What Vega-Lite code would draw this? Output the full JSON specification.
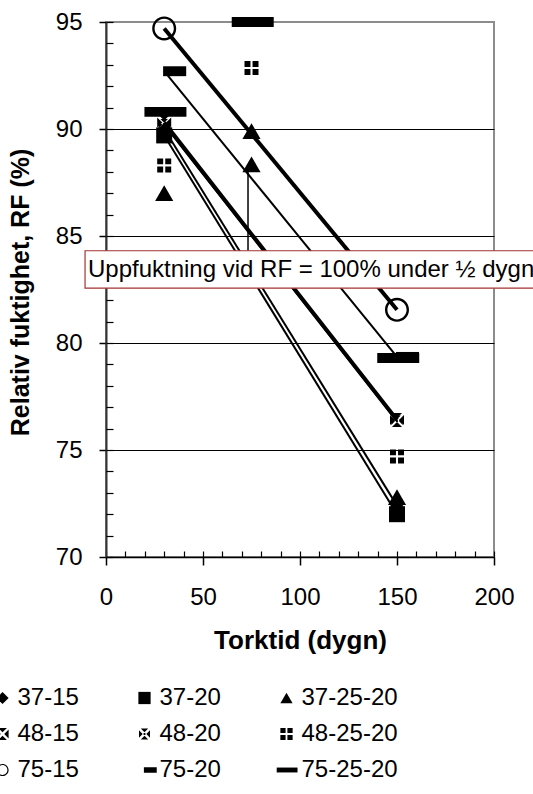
{
  "$schema": "https://vega.github.io/schema/vega-lite/v6.json",
  "width": 388,
  "height": 535,
  "autosize": {"type": "none"},
  "padding": {"left": 106, "top": 22, "right": 39, "bottom": 237},
  "config": {
    "font": "Liberation Sans",
    "view": {"stroke": "#8c8c8c", "strokeWidth": 2},
    "axis": {"labelFont": "Liberation Sans", "titleFont": "Liberation Sans", "labelColor": "black", "titleColor": "black"}
  },
  "datasets": {
    "pts": [
      {"series": "37-15", "x": 30, "y": 90.0},
      {"series": "37-15", "x": 150, "y": 72.4},
      {"series": "37-20", "x": 30, "y": 89.7},
      {"series": "37-20", "x": 150, "y": 72.0},
      {"series": "37-25-20", "x": 30, "y": 87.0},
      {"series": "37-25-20", "x": 75, "y": 88.35},
      {"series": "37-25-20", "x": 75, "y": 89.9},
      {"series": "37-25-20", "x": 150, "y": 72.8},
      {"series": "48-15", "x": 30, "y": 90.3},
      {"series": "48-15", "x": 150, "y": 76.4},
      {"series": "48-20", "x": 30, "y": 90.2},
      {"series": "48-20", "x": 150, "y": 76.35},
      {"series": "48-25-20", "x": 30, "y": 88.3},
      {"series": "48-25-20", "x": 75, "y": 92.85},
      {"series": "48-25-20", "x": 150, "y": 74.7},
      {"series": "75-15", "x": 30, "y": 94.7},
      {"series": "75-15", "x": 150, "y": 81.55},
      {"series": "75-20", "x": 30, "y": 92.7},
      {"series": "75-20", "x": 150, "y": 79.35},
      {"series": "75-25-20", "x": 30, "y": 90.8},
      {"series": "75-25-20", "x": 75, "y": 95.0},
      {"series": "75-25-20", "x": 150, "y": 79.3}
    ],
    "box": [{"x": -10.8, "x2": 230, "y": 82.56, "y2": 84.31}],
    "note": [{"x": -9.3, "y": 83.07, "label": "Uppfuktning vid RF = 100% under ½ dygn"}],
    "arrow": [{"x": 73.2, "y": 84.31, "y2": 88.2}]
  },
  "layer": [
    {
      "data": {"name": "pts"},
      "transform": [{"filter": {"field": "series", "oneOf": ["37-15", "37-20", "48-15", "48-20", "75-15", "75-20"]}}],
      "mark": {"type": "line", "color": "black"},
      "encoding": {
        "x": {"field": "x", "type": "quantitative", "scale": {"domain": [0, 200], "nice": false},
          "axis": {"values": [0, 50, 100, 150, 200], "title": "Torktid (dygn)", "titleFontSize": 26, "titleFontWeight": "bold",
            "titleX": 194, "titleY": 91, "titleBaseline": "alphabetic", "titleAnchor": "middle",
            "labelFontSize": 24, "labelPadding": 20, "tickSize": 8, "tickColor": "black", "tickWidth": 1.5,
            "domainColor": "black", "domainWidth": 1.5, "grid": false, "labelFlush": false, "labelOverlap": false}},
        "y": {"field": "y", "type": "quantitative", "scale": {"domain": [70, 95], "nice": false, "zero": false},
          "axis": {"values": [70, 75, 80, 85, 90, 95], "title": "Relativ fuktighet, RF (%)", "titleFontSize": 25, "titleFontWeight": "bold",
            "titleX": -78, "titleY": 270, "titleBaseline": "alphabetic", "titleAngle": -90, "titleAnchor": "middle",
            "labelFontSize": 24, "labelPadding": 17, "tickSize": 7, "tickColor": "black", "tickWidth": 1.5,
            "domainColor": "#333", "domainWidth": 2, "grid": true,
            "gridColor": {"condition": {"test": "datum.value >= 95 || datum.value <= 70", "value": "transparent"}, "value": "black"},
            "gridWidth": 1, "labelFlush": false, "labelOverlap": false}},
        "detail": {"field": "series"},
        "strokeWidth": {"field": "series", "type": "nominal",
          "scale": {"type": "ordinal", "domain": ["37-15", "37-20", "48-15", "48-20", "75-15", "75-20"], "range": [2, 2, 4, 2, 4, 2]}, "legend": null}
      }
    },
    {
      "data": {"name": "arrow"},
      "mark": {"type": "rule", "color": "black", "strokeWidth": 1.5},
      "encoding": {
        "x": {"field": "x", "type": "quantitative",
          "axis": {"values": [0,10,20,30,40,50,60,70,80,90,100,110,120,130,140,150,160,170,180,190,200], "orient": "bottom", "labels": false, "title": null, "domain": false, "grid": false, "tickSize": -6, "tickColor": "black", "tickWidth": 1.2}},
        "y": {"field": "y", "type": "quantitative",
          "axis": {"values": [70,71,72,73,74,75,76,77,78,79,80,81,82,83,84,85,86,87,88,89,90,91,92,93,94,95], "orient": "left", "labels": false, "title": null, "domain": false, "grid": false, "tickSize": -7, "tickColor": "black", "tickWidth": 1.2}},
        "y2": {"field": "y2"}
      }
    },
    {
      "data": {"name": "pts"},
      "mark": {"type": "point", "opacity": 1, "filled": true, "color": "black", "strokeWidth": 0},
      "encoding": {
        "x": {"field": "x", "type": "quantitative", "axis": null},
        "y": {"field": "y", "type": "quantitative", "axis": null},
        "shape": {"field": "series", "type": "nominal",
          "scale": {
            "domain": ["37-15", "37-20", "37-25-20", "48-15", "48-20", "48-25-20", "75-15", "75-20", "75-25-20"],
            "range": [
              "diamond",
              "square",
              "triangle-up",
              "M-0.72,-1L0.72,-1L0,-0.28Z M1,-0.72L1,0.72L0.28,0Z M0.72,1L-0.72,1L0,0.28Z M-1,0.72L-1,-0.72L-0.28,0Z",
              "M-0.6,-0.9L0.6,-0.9L0,-0.3Z M0.9,-0.6L0.9,0.6L0.3,0Z M0.6,0.9L-0.6,0.9L0,0.3Z M-0.9,0.6L-0.9,-0.6L-0.3,0Z M-0.15,-0.15H0.15V0.15H-0.15Z",
              "M-1,-1H-0.15V-0.15H-1Z M0.15,-1H1V-0.15H0.15Z M-1,0.15H-0.15V1H-1Z M0.15,0.15H1V1H0.15Z",
              "M1,0A1,1 0 1,1 -1,0A1,1 0 1,1 1,0Z M0.8,0A0.8,0.8 0 1,0 -0.8,0A0.8,0.8 0 1,0 0.8,0Z",
              "M-0.1,-0.45H2V0.45H-0.1Z",
              "M-1.6,-0.4H1.8V0.4H-1.6Z"
            ]
          },
          "legend": {
            "orient": "none", "legendX": -115.5, "legendY": 664, "columns": 3, "direction": "horizontal", "gridAlign": "all", "columnPadding": 18, "rowPadding": 12,
            "title": null, "labelFontSize": 24, "labelFont": "Liberation Sans", "labelColor": "black", "labelOffset": 3,
            "symbolSize": 150, "symbolOpacity": 1, "symbolStrokeWidth": 0, "symbolFillColor": "black", "labelLimit": 300, "padding": 0
          }
        },
        "size": {"field": "series", "type": "nominal",
          "scale": {"type": "ordinal", "domain": ["75-25-20", "75-20", "75-15", "48-25-20", "48-20", "48-15", "37-25-20", "37-20", "37-15"],
            "range": [610, 484, 576, 196, 160, 196, 330, 256, 160]}, "legend": null}
      }
    },
    {
      "data": {"name": "box"},
      "mark": {"type": "rect", "fill": "white", "stroke": "#a33333", "strokeWidth": 1.2},
      "encoding": {
        "x": {"field": "x", "type": "quantitative", "axis": null},
        "x2": {"field": "x2"},
        "y": {"field": "y", "type": "quantitative", "axis": null},
        "y2": {"field": "y2"}
      }
    },
    {
      "data": {"name": "note"},
      "mark": {"type": "text", "align": "left", "baseline": "alphabetic", "fontSize": 24, "font": "Liberation Sans", "color": "black"},
      "encoding": {
        "x": {"field": "x", "type": "quantitative", "axis": null},
        "y": {"field": "y", "type": "quantitative", "axis": null},
        "text": {"field": "label"}
      }
    }
  ],
  "resolve": {"axis": {"x": "independent", "y": "independent"}}
}
